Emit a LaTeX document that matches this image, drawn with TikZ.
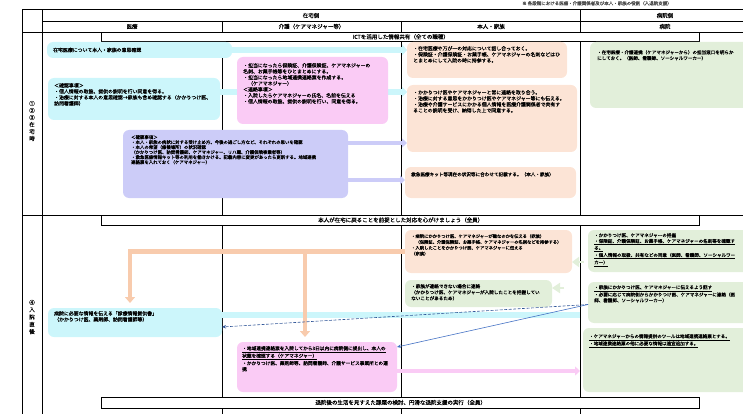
\documentclass[tikz,border=0pt]{standalone}
\usepackage{fontspec}
\setmainfont{Noto Sans CJK JP}[FakeBold=0.5]
\usetikzlibrary{arrows.meta,calc}
\XeTeXlinebreaklocale "ja"
\XeTeXlinebreakskip=0pt plus 0.5pt
\definecolor{cyb}{HTML}{CCF6FB}
\definecolor{pkb}{HTML}{FACBF5}
\definecolor{lvb}{HTML}{CCCCF8}
\definecolor{pcb}{HTML}{FCE4D6}
\definecolor{grb}{HTML}{E2EFDA}
\definecolor{pcarr}{HTML}{F8CBAD}
\definecolor{blA}{HTML}{2F5597}
\definecolor{blB}{HTML}{4472C4}
\pgfdeclarelayer{gridl}
\pgfdeclarelayer{arrl}
\pgfsetlayers{gridl,arrl,main}
\tikzset{
  bx/.style={rounded corners=6pt, draw=none, inner sep=0pt, outer sep=0pt, anchor=north west},
  tx/.style={inner sep=0pt, anchor=north west, align=left, font=\fontsize{4.9}{6}\selectfont},
  gtx/.style={tx, font=\fontsize{4.55}{5.8}\selectfont},
  hdr/.style={inner sep=0pt, font=\fontsize{5.5}{6}\selectfont},
  banner/.style={draw=black, line width=0.8pt, fill=white, inner sep=0pt, outer sep=0pt, anchor=north west, font=\fontsize{5.5}{6}\selectfont},
  gridline/.style={line width=0.8pt, black},
  blarrow/.style={draw=#1, line width=0.6pt, -{Stealth[length=4pt,width=3.5pt]}},
}
\newcommand\mybox[6]{\node[bx, fill=#6, minimum width={#4-#2}, minimum height={#5-#3}] (#1) at (#2,#3) {};}
\begin{document}
\begin{tikzpicture}[x=1pt,y=-1pt]
\useasboundingbox (0,0) rectangle (743,414);
\clip (0,0) rectangle (743,414);

% grid
\begin{pgfonlayer}{gridl}
\draw[gridline] (22,9.5) -- (743,9.5);
\draw[gridline] (42,21) -- (743,21);
\draw[gridline] (22,32) -- (743,32);
\draw[gridline] (22,215) -- (743,215);
\draw[gridline] (22,9.5) -- (22,414);
\draw[gridline] (42,9.5) -- (42,414);
\draw[gridline] (222,21) -- (222,414);
\draw[gridline] (401,21) -- (401,414);
\draw[gridline] (580,9.5) -- (580,414);
\end{pgfonlayer}

% note
\node[inner sep=0pt, anchor=north west, text=black!70, font=\fontsize{4.5}{5}\selectfont] (note) at (522,1) {※ 各段階における医療・介護関係者及び本人・家族の役割（入退院支援）};

% headers
\node[hdr] (hz) at (311,15.5) {在宅側};
\node[hdr] (hb) at (665,15.5) {病院側};
\node[hdr] (h1) at (132,26.5) {医療};
\node[hdr] (h2) at (311.5,26.5) {介護（ケアマネジャー等）};
\node[hdr] (h3) at (491,26.5) {本人・家族};
\node[hdr] (h4) at (665,26.5) {病院};

% row labels
\node[hdr, align=center, font=\fontsize{5.5}{7}\selectfont] (r1) at (32,121) {①\\②\\③\\在\\宅\\時};
\node[hdr, align=center, font=\fontsize{5.5}{7.3}\selectfont] (r2) at (32,317) {④\\入\\院\\直\\後};

% banners
\node[banner, minimum width=598, minimum height=9.6] (ban1) at (101.7,32) {ICTを活用した情報共有（全ての職種）};
\node[banner, minimum width=598, minimum height=10] (ban2) at (101.7,215) {本人が在宅に戻ることを前提とした対応を心がけましょう（全員）};
\node[banner, minimum width=598, minimum height=11] (ban3) at (101.7,397) {退院後の生活を見すえた課題の検討、円滑な退院支援の実行（全員）};

% boxes
\mybox{cyanA}{47}{42}{232}{58}{cyb}
\mybox{cyanB}{48}{78}{220}{120}{cyb}
\mybox{pinkA}{237}{57}{388}{124}{pkb}
\mybox{peachA}{407}{42}{567}{78}{pcb}
\mybox{peachB}{407}{85}{577}{152}{pcb}
\mybox{greenA}{590}{42}{755}{108}{grb}
\mybox{lavA}{123}{130}{348}{198}{lvb}
\mybox{peachC}{405}{167}{576}{198}{pcb}
\mybox{peachD}{405}{230}{572}{273}{pcb}
\mybox{greenB}{405}{280}{552}{307}{grb}
\mybox{greenC}{588}{230}{755}{272}{grb}
\mybox{greenD}{588}{282}{755}{323}{grb}
\mybox{greenE}{583}{328}{755}{392}{grb}
\mybox{cyanC}{48}{308}{222}{337}{cyb}
\mybox{pinkB}{237}{342}{397}{392}{pkb}

% texts
\node[tx, anchor=west] (cyanAt) at ($(cyanA.west)+(6,0)$) {在宅医療について本人・家族の意思確認};
\node[tx] (cyanBt) at ($(cyanB.north west)+(6,5)$) {＜確認事項＞\\
・個人情報の取扱、提供の説明を行い同意を得る。\\
・治療に対する本人の意思確認→家族も含め確認する（かかりつけ医、\\
訪問看護師）};
\node[tx] (pinkAt) at ($(pinkA.north west)+(6,6)$) {・担当になったら保険証、介護保険証、ケアマネジャーの\\
名刺、お薬手帳等をひとまとめにする。\\
・担当になったら地域連携連絡票を作成する。\\
　（ケアマネジャー）\\
＜連絡事項＞\\
・入院したらケアマネジャーの氏名、名前を伝える\\
・個人情報の取扱、提供の説明を行い、同意を得る。};
\node[tx] (peachAt) at ($(peachA.north west)+(6,4)$) {・在宅医療や万が一の対応について話し合っておく。\\
・保険証・介護保険証・お薬手帳、ケアマネジャーの名刺などはひ\\
とまとめにして入院の時に持参する。};
\node[tx] (peachBt) at ($(peachB.north west)+(6,5)$) {・かかりつけ医やケアマネジャーと常に連絡を取り合う。\\
・治療に対する意思をかかりつけ医やケアマネジャー等にも伝える。\\
・治療や介護サービスにかかる個人情報を医療介護関係者で共有す\\
ることの説明を受け、納得した上で同意する。};
\node[gtx] (greenAt) at ($(greenA.north west)+(7,8)$) {・在宅医療・介護連携（ケアマネジャーから）の担当窓口を明らか\\
にしておく。（医師、看護師、ソーシャルワーカー）};
\node[tx, font=\fontsize{4.4}{5}\selectfont] (lavAt) at ($(lavA.north west)+(8,5)$) {＜確認事項＞\\
・本人・家族の病状に対する受け止め方、今後の過ごし方など、それぞれの思いを確認\\
・本人の希望（療養場所）の状況確認\\
（かかりつけ医、訪問看護師、ケアマネジャー、リハ職、介護保険事業者等）\\
・救急医療情報キット等の利用を働きかける。記載内容に変更があったら更新する。地域連携\\
連絡票を入れておく（ケアマネジャー）};
\node[tx, font=\fontsize{4.6}{6}\selectfont] (peachCt) at ($(peachC.north west)+(6,5)$) {救急医療キット等現在の状況等に合わせて記載する。（本人・家族）};
\node[tx, font=\fontsize{4.3}{5.8}\selectfont] (peachDt) at ($(peachD.north west)+(6,4)$) {・病院にかかりつけ医、ケアマネジャーが誰なのかを伝える（家族）\\
　（保険証、介護保険証、お薬手帳、ケアマネジャーの名刺などを持参する）\\
・入院したことをかかりつけ医、ケアマネジャーに伝える\\
（家族）};
\node[tx, font=\fontsize{4.6}{6}\selectfont] (greenBt) at ($(greenB.north west)+(6,4)$) {・家族が連絡できない場合に連絡\\
（かかりつけ医、ケアマネジャーが入院したことを把握してい\\
ないことがあるため）};
\node[gtx] (greenCt) at ($(greenC.north west)+(6,3)$) {・かかりつけ医、ケアマネジャーの把握\\
\underline{・保険証、介護保険証、お薬手帳、ケアマネジャーの名刺等を確認す}\\
\underline{る。}\\
\underline{・個人情報の取扱、共有などの同意（医師、看護師、ソーシャルワー}\\
\underline{カー）}};
\node[gtx] (greenDt) at ($(greenD.north west)+(6,3)$) {\underline{・家族にかかりつけ医、ケアマネジャーに伝えるよう話す}\\
・必要に応じて病院側からかかりつけ医、ケアマネジャーに連絡（医\\
師、看護師、ソーシャルワーカー）};
\node[gtx] (greenEt) at ($(greenE.north west)+(6,6)$) {\underline{・ケアマネジャーからの情報提供のツールは地域連携連絡票とする。}\\
\underline{・地域連携連絡票の他に必要な情報は適宜追加する。}};
\node[tx] (cyanCt) at ($(cyanC.north west)+(6,3)$) {病院に必要な情報を伝える「診療情報提供書」\\
（かかりつけ医、薬剤師、訪問看護師等）};
\node[tx, font=\fontsize{4.7}{6}\selectfont] (pinkBt) at ($(pinkB.north west)+(5,4)$) {\underline{・地域連携連絡票を入院してから3日以内に病院側に提出し、本人の}\\
\underline{状態を確認する（ケアマネジャー）}\\
・かかりつけ医、薬剤師等、訪問看護師、介護サービス事業所との連\\
携};

% helper coordinates
\coordinate (pe1) at ([xshift=-5pt]cyanC.north);
\coordinate (pe2) at ([xshift=-12pt]pinkB.north);

% band arrows (under boxes)
\begin{pgfonlayer}{arrl}
\draw[cyb, line width=6.5pt, -{Triangle[length=5pt,width=11pt]}] ([xshift=-4pt]cyanA.east) coordinate (ca) -- (ca -| peachA.west);
\draw[cyb, line width=6pt, -{Triangle[length=5pt,width=10pt]}] ([xshift=-4pt,yshift=7pt]cyanB.east) coordinate (cb) -- (cb -| peachB.west);
\draw[lvb, line width=3.5pt, -{Triangle[length=5pt,width=9pt]}] ([xshift=-4pt,yshift=21pt]lavA.east) coordinate (l1) -- (l1 -| peachB.west);
\draw[lvb, line width=3.5pt, -{Triangle[length=5pt,width=9pt]}] ([xshift=-4pt,yshift=-16pt]lavA.east) coordinate (l2) -- (l2 -| peachC.west);
\draw[grb, line width=2pt, -{Triangle[length=7pt,width=10pt]}] ([yshift=-11pt]greenC.west) ++(-4,0) coordinate (g1) -- (g1 -| peachD.east);
\draw[grb, line width=2pt, -{Triangle[length=8pt,width=10pt]}] ([yshift=14.5pt]greenD.west) ++(-24,0) coordinate (g2) -- (g2 -| greenB.east);
\draw[cyb, line width=6pt, shorten >=8pt] ([xshift=-4pt,yshift=7.5pt]cyanC.east) coordinate (c3) -- (c3 -| greenD.west);
\draw[pkb, line width=4pt, shorten >=3pt, -{Triangle[length=5pt,width=9pt]}] ([xshift=-4pt,yshift=-4pt]pinkB.east) coordinate (p2) -- (p2 -| greenE.west);
\draw[pcarr, line width=4.5pt, shorten >=5pt, -{Triangle[length=6pt,width=10pt]}] (peachD.west) -- (peachD.west -| pe1) -- (pe1);
\draw[pcarr, line width=4.5pt, shorten >=5pt, -{Triangle[length=6pt,width=10pt]}] (peachD.west -| pe2) -- (pe2);
\end{pgfonlayer}

% blue connectors
\draw[blarrow=blA, dash pattern=on 3pt off 1.5pt] ([yshift=-2pt]greenD.west) -- ([yshift=-4.5pt]cyanC.east);
\draw[blarrow=blB] ([yshift=-2pt]greenD.west) -- ([yshift=-5pt]pinkB.north east);
\end{tikzpicture}
\end{document}
